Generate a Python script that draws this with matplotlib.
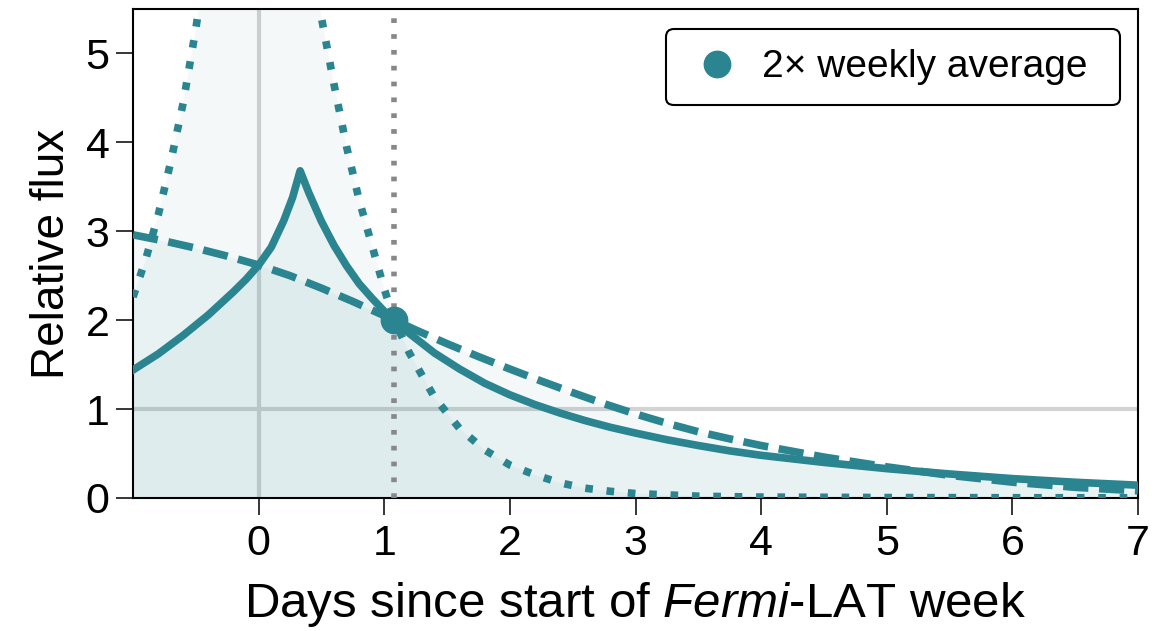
import matplotlib
matplotlib.use("Agg")
import matplotlib.pyplot as plt

plt.rcParams['font.family'] = ['Liberation Sans', 'DejaVu Sans']
plt.rcParams['mathtext.fontset'] = 'custom'
plt.rcParams['mathtext.it'] = 'Liberation Sans:italic'
plt.rcParams['mathtext.rm'] = 'Liberation Sans'

teal = '#2b8590'

# light curves, relative flux vs. days since start of the week
solid_x = [-1.0, -0.8, -0.6, -0.4, -0.2, -0.1, 0.0, 0.1, 0.2, 0.27, 0.33, 0.4, 0.5, 0.6,
           0.7, 0.8, 0.9, 1.0, 1.08, 1.2, 1.4, 1.6, 1.8, 2.0, 2.2, 2.4, 2.6, 2.8, 3.0,
           3.25, 3.5, 3.75, 4.0, 4.5, 5.0, 5.5, 6.0, 6.5, 7.0]
solid_y = [1.44, 1.62, 1.83, 2.06, 2.32, 2.46, 2.62, 2.82, 3.12, 3.38, 3.68, 3.43, 3.11, 2.84,
           2.61, 2.41, 2.25, 2.10, 2.00, 1.85, 1.63, 1.45, 1.29, 1.16, 1.05, 0.955, 0.87, 0.795, 0.73,
           0.655, 0.59, 0.53, 0.48, 0.40, 0.33, 0.27, 0.218, 0.177, 0.144]

dashed_x = [-1.0, -0.75, -0.5, -0.25, 0.0, 0.25, 0.5, 0.75, 1.0, 1.08, 1.25, 1.5, 1.75, 2.0,
            2.25, 2.5, 2.75, 3.0, 3.25, 3.5, 3.75, 4.0, 4.5, 5.0, 5.5, 6.0, 6.5, 7.0]
dashed_y = [2.96, 2.89, 2.81, 2.72, 2.62, 2.50, 2.36, 2.21, 2.05, 2.00, 1.89, 1.735, 1.59, 1.45,
            1.315, 1.185, 1.06, 0.945, 0.84, 0.745, 0.665, 0.59, 0.46, 0.35, 0.255, 0.178, 0.12, 0.08]

dotted_x = [-1.0, -0.9, -0.8, -0.7, -0.6, -0.5, -0.4, -0.3, 0.33, 0.4, 0.45, 0.5, 0.6,
            0.7, 0.8, 0.9, 1.0, 1.08, 1.2, 1.4, 1.6, 1.8, 2.0, 2.2, 2.4, 2.6, 2.8, 3.0,
            3.5, 4.0, 5.0, 6.0, 7.0]
dotted_y = [2.26, 2.68, 3.18, 3.78, 4.45, 5.28, 6.25, 7.40, 12.0, 6.35, 5.85, 5.40, 4.65,
            3.95, 3.35, 2.85, 2.35, 2.00, 1.63, 1.13, 0.78, 0.54, 0.37, 0.26, 0.17, 0.11, 0.075, 0.05,
            0.02, 0.01, 0.005, 0.003, 0.002]

avg_day = 1.08
avg_flux = 2.0

fig = plt.figure(figsize=(11.63, 6.31), dpi=100)
ax = fig.add_axes([0.1144, 0.2108, 0.8641, 0.775])

# reference lines
ax.axvline(0, color='#d2d4d4', lw=3, zorder=1)
ax.axhline(1, color='#d2d4d4', lw=3, zorder=1)

for xs, ys in [(dotted_x, dotted_y), (solid_x, solid_y), (dashed_x, dashed_y)]:
    ax.fill_between(xs, 0, ys, color=teal, alpha=0.05, lw=0, zorder=2)

lw = 5.5
ax.plot(solid_x, solid_y, color=teal, lw=lw, zorder=3)
ax.plot(dashed_x, dashed_y, color=teal, lw=lw, dashes=(3.3, 1.4), zorder=3)
ax.plot(dotted_x, dotted_y, color=teal, lw=lw, dashes=(1, 1.8), zorder=3)

ax.axvline(avg_day, color='#888888', lw=4, dashes=(0.85, 2), zorder=4)
ax.plot([avg_day], [avg_flux], 'o', color=teal, ms=19, zorder=5,
        label='2× weekly average')

ax.set_xlim(-1, 7)
ax.set_ylim(0, 5.5)
ax.set_xticks(range(0, 8))
ax.set_yticks(range(0, 6))
ax.tick_params(direction='out', length=12, width=1.1, labelsize=31)
ax.tick_params(axis='x', pad=7)
ax.tick_params(axis='y', pad=5)
for s in ax.spines.values():
    s.set_linewidth(1.5)

ax.set_xlabel(r'Days since start of $\it{Fermi}$-LAT week', fontsize=35.5, labelpad=11)
ax.set_ylabel('Relative flux', fontsize=33, labelpad=8)

leg = ax.legend(loc='upper left', bbox_to_anchor=(0.5303, 0.5, 0.4517, 0.459),
                mode='expand', borderaxespad=0,
                fontsize=28, frameon=True, fancybox=True, framealpha=1,
                handletextpad=0.35, borderpad=0.52, handlelength=1.6)
leg.get_frame().set_edgecolor('black')
leg.get_frame().set_linewidth(1.5)

fig.savefig('out.png', dpi=100)
